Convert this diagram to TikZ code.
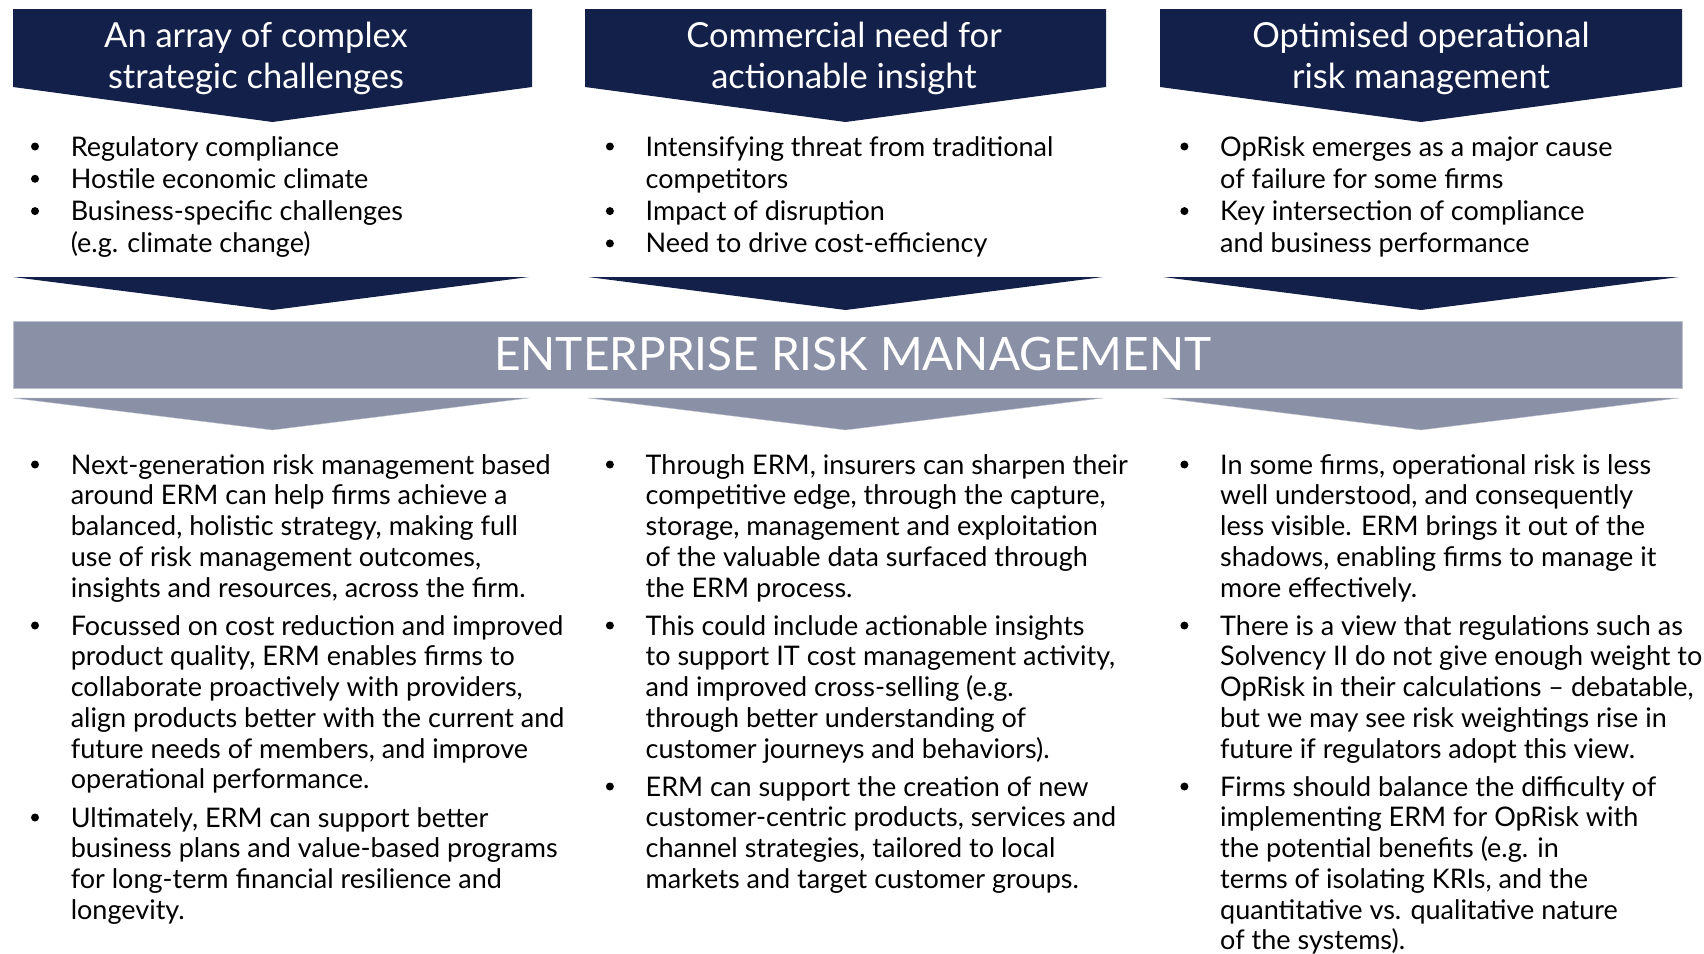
\documentclass[tikz,border=0pt]{standalone}
\usepackage{fontspec}
\setmainfont{Lato}
\definecolor{navy}{RGB}{19,32,74}
\definecolor{slate}{RGB}{138,145,166}
\newcommand{\lines}[1]{\begin{tabular}[t]{@{}l@{}}#1\end{tabular}}
\tikzset{
  ttl/.style={text=white, align=center, anchor=base, inner sep=0pt,
    font=\fontsize{34.5}{41.3}\selectfont},
  ermbar/.style={fill=slate, draw=slate!55, line width=1pt, text=white,
    minimum width=1669pt, minimum height=67pt, inner sep=0pt,
    font=\fontsize{46}{50}\selectfont},
  topitem/.style={anchor=base west, inner sep=0pt,
    font=\fontsize{27}{32.3}\selectfont},
  item/.style={anchor=base west, inner sep=0pt,
    font=\fontsize{27}{30.75}\selectfont},
  bul/.style={circle, fill=black, minimum size=8pt, inner sep=0pt},
}

\begin{document}
\begin{tikzpicture}[x=1pt,y=-1pt]
    \useasboundingbox (0,0) rectangle (1704,953);
    % headers
    \fill[navy] (13,9) -- (532,9) -- (532,87) -- (272.5,122) -- (13,87) -- cycle;
    \fill[navy] (585,9) -- (1106,9) -- (1106,87) -- (845.5,122) -- (585,87) -- cycle;
    \fill[navy] (1160,9) -- (1682,9) -- (1682,87) -- (1421,122) -- (1160,87) -- cycle;
    \node[ttl] (t1) at (256,88.3) {An array of complex\\strategic challenges};
    \node[ttl] (t2) at (844,88.3) {Commercial need for\\actionable insight};
    \node[ttl] (t3) at (1421,88.3) {Optimised operational\\risk management};

    % drivers
    \node[topitem] (u11) at (70.6,156) {\lines{Regulatory compliance}};
    \node[topitem] (u12) at (70.6,188.3) {\lines{Hostile economic climate}};
    \node[topitem] (u13) at (70.6,220.6) {\lines{Business-specific challenges\\(e.g. climate change)}};
    \node[topitem] (u21) at (645.5,156) {\lines{Intensifying threat from traditional\\competitors}};
    \node[topitem] (u22) at (645.5,220.6) {\lines{Impact of disruption}};
    \node[topitem] (u23) at (645.5,252.9) {\lines{Need to drive cost-efficiency}};
    \node[topitem] (u31) at (1220,156) {\lines{OpRisk emerges as a major cause\\of failure for some firms}};
    \node[topitem] (u32) at (1220,220.6) {\lines{Key intersection of compliance\\and business performance}};
    \foreach \n in {u11,u12,u13,u21,u22,u23,u31,u32}
        \node[bul] (p\n) at ([xshift=-35.6pt,yshift=9.5pt]\n.base west) {};

    % into ERM
    \fill[navy] (13,277) -- (529,277) -- (272.5,310) -- cycle;
    \fill[navy] (588,277) -- (1103,277) -- (845.5,310) -- cycle;
    \fill[navy] (1163,277) -- (1679,277) -- (1421,310) -- cycle;
    \node[ermbar] (erm) at (847.5,354.5) {\hspace*{10pt}ENTERPRISE RISK MANAGEMENT};
    \filldraw[fill=slate, draw=slate!55] (13,398) -- (529,398) -- (272.5,430) -- cycle;
    \filldraw[fill=slate, draw=slate!55] (588,398) -- (1103,398) -- (845.5,430) -- cycle;
    \filldraw[fill=slate, draw=slate!55] (1163,398) -- (1679,398) -- (1421,430) -- cycle;

    % outcomes
    \node[item] (v11) at (70.6,474) {\lines{Next-generation risk management based\\around ERM can help firms achieve a\\balanced, holistic strategy, making full\\use of risk management outcomes,\\insights and resources, across the firm.}};
    \node[item] (v12) at (70.6,635) {\lines{Focussed on cost reduction and improved\\product quality, ERM enables firms to\\collaborate proactively with providers,\\align products better with the current and\\future needs of members, and improve\\operational performance.}};
    \node[item] (v13) at (70.6,827) {\lines{Ultimately, ERM can support better\\business plans and value-based programs\\for long-term financial resilience and\\longevity.}};
    \node[item] (v21) at (645.5,474) {\lines{Through ERM, insurers can sharpen their\\competitive edge, through the capture,\\storage, management and exploitation\\of the valuable data surfaced through\\the ERM process.}};
    \node[item] (v22) at (645.5,635) {\lines{This could include actionable insights\\to support IT cost management activity,\\and improved cross-selling (e.g.\\through better understanding of\\customer journeys and behaviors).}};
    \node[item] (v23) at (645.5,796) {\lines{ERM can support the creation of new\\customer-centric products, services and\\channel strategies, tailored to local\\markets and target customer groups.}};
    \node[item] (v31) at (1220,474) {\lines{In some firms, operational risk is less\\well understood, and consequently\\less visible. ERM brings it out of the\\shadows, enabling firms to manage it\\more effectively.}};
    \node[item] (v32) at (1220,635) {\lines{There is a view that regulations such as\\Solvency II do not give enough weight to\\OpRisk in their calculations – debatable,\\but we may see risk weightings rise in\\future if regulators adopt this view.}};
    \node[item] (v33) at (1220,796) {\lines{Firms should balance the difficulty of\\implementing ERM for OpRisk with\\the potential benefits (e.g. in\\terms of isolating KRIs, and the\\quantitative vs. qualitative nature\\of the systems).}};
    \foreach \n in {v11,v12,v13,v21,v22,v23,v31,v32,v33}
        \node[bul] (p\n) at ([xshift=-35.6pt,yshift=9.5pt]\n.base west) {};
\end{tikzpicture}
\end{document}
